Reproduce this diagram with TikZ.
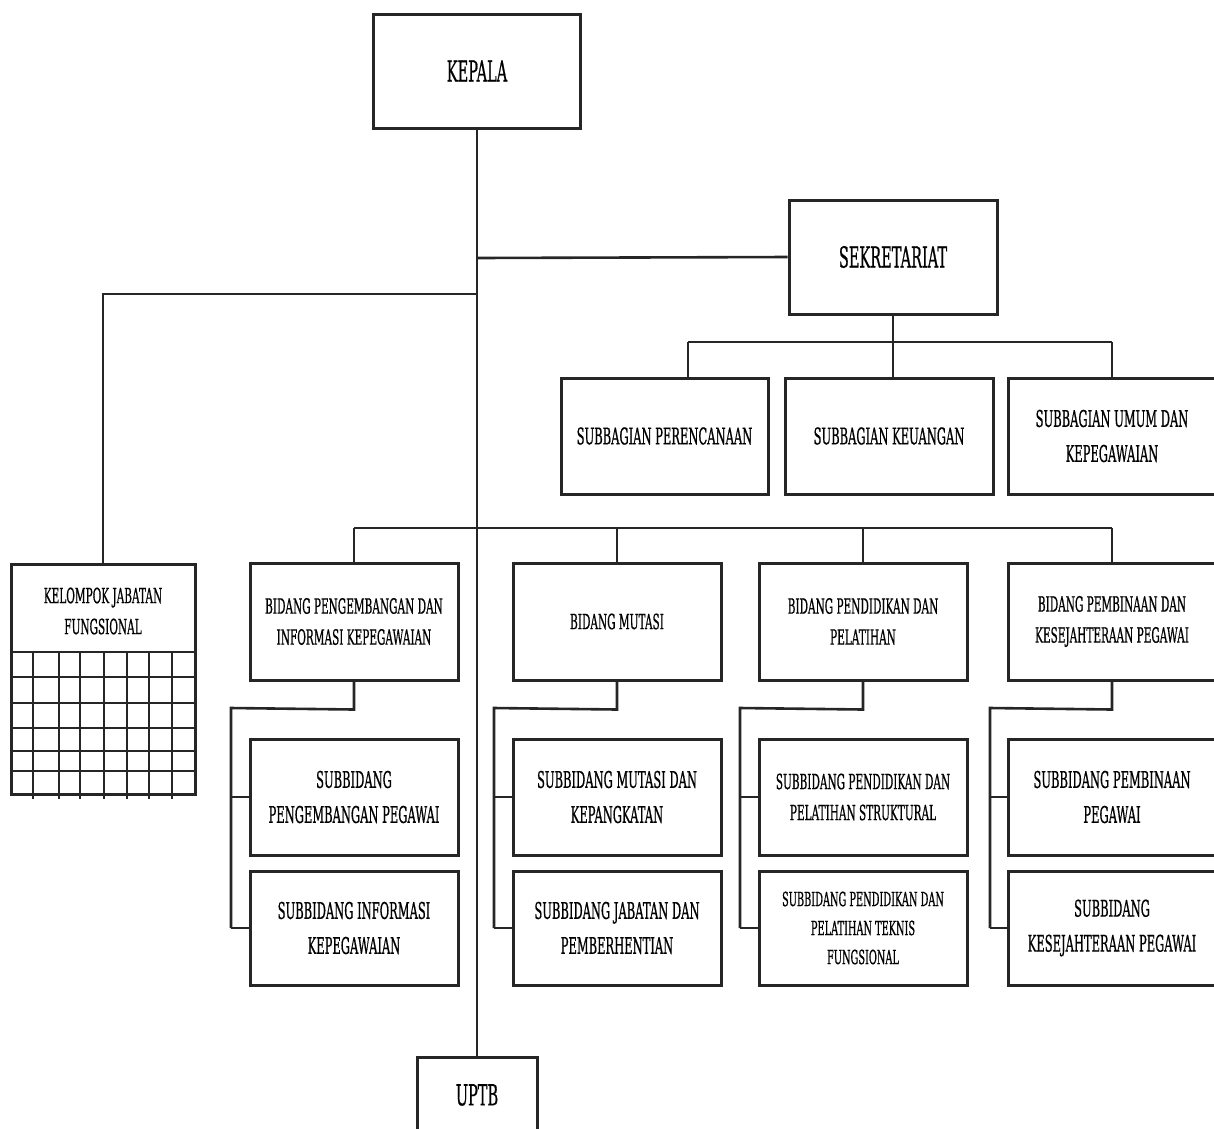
\documentclass[tikz,border=0pt]{standalone}
\usepackage{fontspec}
\setmainfont{DejaVu Serif}[FakeStretch=0.5,FakeBold=0.6]
\begin{document}
\begin{tikzpicture}[x=1pt,y=-1pt,
  box/.style={draw=black!85,line width=3pt,fill=white,align=center,inner sep=2pt},
  conn/.style={draw=black!85,line width=2.6pt},
  big/.style={font=\fontsize{29}{34}\selectfont},
  mid/.style={font=\fontsize{23}{35}\selectfont},
  bid/.style={font=\fontsize{21}{31}\selectfont},
  sml/.style={font=\fontsize{19.5}{29}\selectfont}]
\useasboundingbox (0,0) rectangle (1214,1128);
% top
\node[box,big,minimum width=207pt,minimum height=114pt] (kepala) at (477,71) {KEPALA};
\node[box,big,minimum width=208pt,minimum height=114pt] (sekr) at (893,257) {SEKRETARIAT};
\node[box,big,minimum width=120pt,minimum height=84pt,anchor=north] (uptb) at (477,1056) {};
\node[big] (uptbt) at (477,1095) {UPTB};
% subbagian
\node[box,mid,minimum width=207pt,minimum height=116pt] (sb1) at (664.5,436) {SUBBAGIAN PERENCANAAN};
\node[box,mid,minimum width=208pt,minimum height=116pt] (sb2) at (889,436) {SUBBAGIAN KEUANGAN};
\node[box,mid,minimum width=208pt,minimum height=116pt] (sb3) at (1112,436) {SUBBAGIAN UMUM DAN\\KEPEGAWAIAN};
% kelompok jabatan fungsional
\node[box,bid,minimum width=184pt,minimum height=230pt,anchor=north] (kjf) at (103,563) {};
\node[bid,align=center] (kjft) at (103,611) {KELOMPOK JABATAN\\FUNGSIONAL};
\foreach \yy in {652,677,703,728,751,771}
  \draw[conn] (11,\yy) -- (195,\yy);
\foreach \xx in {33,59,80,104,127,149,172}
  \draw[conn] (\xx,652) -- (\xx,799);
% bidang
\node[box,bid,minimum width=208pt,minimum height=117pt] (b1) at (354,621.5) {BIDANG PENGEMBANGAN DAN\\INFORMASI KEPEGAWAIAN};
\node[box,bid,minimum width=208pt,minimum height=117pt] (b2) at (617,621.5) {BIDANG MUTASI};
\node[box,bid,minimum width=208pt,minimum height=117pt] (b3) at (863,621.5) {BIDANG PENDIDIKAN DAN\\PELATIHAN};
\node[box,bid,minimum width=208pt,minimum height=117pt] (b4) at (1112,621.5) {BIDANG PEMBINAAN DAN\\KESEJAHTERAAN PEGAWAI};
% subbidang
\node[box,mid,minimum width=208pt,minimum height=116pt] (s11) at (354,797) {SUBBIDANG\\PENGEMBANGAN PEGAWAI};
\node[box,mid,minimum width=208pt,minimum height=114pt] (s12) at (354,928) {SUBBIDANG INFORMASI\\KEPEGAWAIAN};
\node[box,mid,minimum width=208pt,minimum height=116pt] (s21) at (617,797) {SUBBIDANG MUTASI DAN\\KEPANGKATAN};
\node[box,mid,minimum width=208pt,minimum height=114pt] (s22) at (617,928) {SUBBIDANG JABATAN DAN\\PEMBERHENTIAN};
\node[box,bid,minimum width=208pt,minimum height=116pt] (s31) at (863,797) {SUBBIDANG PENDIDIKAN DAN\\PELATIHAN STRUKTURAL};
\node[box,sml,minimum width=208pt,minimum height=114pt] (s32) at (863,928) {SUBBIDANG PENDIDIKAN DAN\\PELATIHAN TEKNIS\\FUNGSIONAL};
\node[box,mid,minimum width=208pt,minimum height=116pt] (s41) at (1112,797) {SUBBIDANG PEMBINAAN\\PEGAWAI};
\node[box,mid,minimum width=208pt,minimum height=114pt] (s42) at (1112,928) {SUBBIDANG\\KESEJAHTERAAN PEGAWAI};
% connectors
\coordinate (jS) at (477,258);
\coordinate (jK) at (477,294);
\coordinate (jB) at (477,528);
\draw[conn] (kepala.south) -- (uptb.north);
\draw[conn] (jS) -- (sekr.west);
\draw[conn] (jK) -- (103,294) -- (kjf.north);
\draw[conn] (sekr.south) -- (893,342);
\draw[conn] (688,342) -- (1112,342);
\draw[conn] (688,342) -- (688,378);
\draw[conn] (893,342) -- (893,378);
\draw[conn] (1112,342) -- (sb3.north);
\draw[conn] (354,528) -- (1112,528);
\draw[conn] (354,528) -- (b1.north);
\draw[conn] (617,528) -- (b2.north);
\draw[conn] (863,528) -- (b3.north);
\draw[conn] (1112,528) -- (b4.north);
\foreach \b/\bx/\u/\l in {b1/231/s11/s12, b2/494/s21/s22, b3/740/s31/s32, b4/990/s41/s42}{
  \draw[conn] (\b.south) -- ++(0,28) -- (\bx,708) -- (\bx,928);
  \draw[conn] (\bx,797) -- (\u.west);
  \draw[conn] (\bx,928) -- (\l.west);
}
\end{tikzpicture}
\end{document}
